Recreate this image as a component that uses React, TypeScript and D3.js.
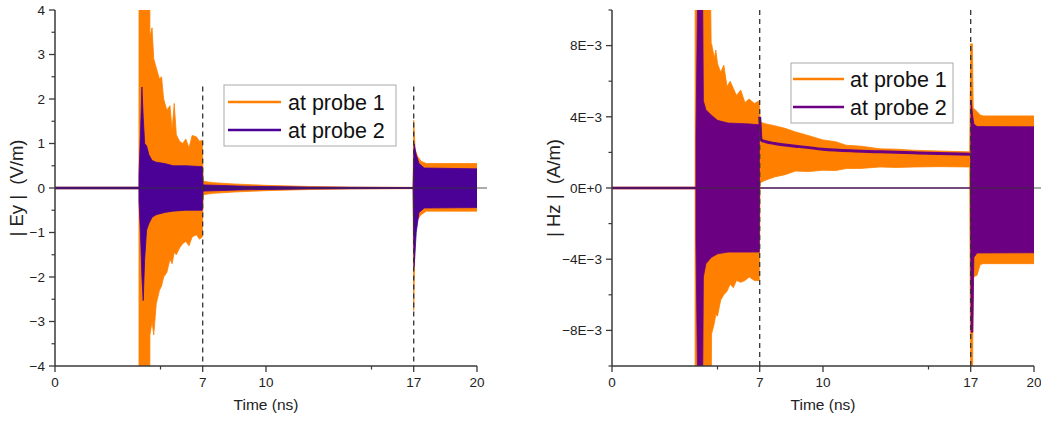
import React from 'react';
import * as d3 from 'd3';

// ---- data ----
const xTicks = [0, 7, 10, 17, 20];
const xMinor = [5, 15];
const switchTimes = [7, 17];

const eyTicks = [-4, -3, -2, -1, 0, 1, 2, 3, 4];
const eyMinor = [-3.5, -2.5, -1.5, -0.5, 0.5, 1.5, 2.5, 3.5];
const hzTicks = [-8e-3, -4e-3, 0, 4e-3, 8e-3];
const hzMinor = [-10e-3, -6e-3, -2e-3, 2e-3, 6e-3, 10e-3];

const seriesNames = ['at probe 1', 'at probe 2'];

// Ey, probe 1 envelope (V/m)
const eyP1Time = [3.98, 4.49, 4.5, 4.6, 4.68, 4.8, 4.95, 5.05, 5.15, 5.3, 5.45, 5.55, 5.65, 5.75, 5.9, 6.05, 6.2, 6.35, 6.5, 6.7, 6.85, 6.98, 7.02, 7.5, 8.5, 10, 12, 14, 16.97, 17.0, 17.07, 17.2, 17.35, 17.6, 20];
const eyP1Upper = [5, 5, 3.4, 3.6, 2.9, 2.7, 2.45, 2.5, 2.0, 1.75, 1.85, 1.3, 1.9, 1.2, 1.05, 1.0, 1.1, 0.9, 1.18, 1.15, 1.05, 1.07, 0.15, 0.12, 0.09, 0.06, 0.035, 0.02, 0.015, 1.52, 0.85, 0.7, 0.6, 0.55, 0.55];
const eyP1Lower = [-5, -5, -3.3, -3.0, -3.3, -2.6, -2.3, -2.2, -2.0, -1.9, -1.6, -1.7, -1.45, -1.5, -1.35, -1.25, -1.2, -1.3, -1.1, -1.05, -1.15, -1.1, -0.15, -0.12, -0.09, -0.06, -0.035, -0.02, -0.015, -2.75, -0.9, -0.7, -0.6, -0.52, -0.52];

// Ey, probe 2 envelope (V/m)
const eyP2Time = [3.98, 4.05, 4.12, 4.18, 4.25, 4.34, 4.45, 4.6, 4.8, 5.2, 5.6, 6.2, 6.98, 7.02, 9, 12, 16.97, 17.02, 17.12, 17.25, 17.5, 20];
const eyP2Upper = [0.3, 1.2, 2.27, 1.6, 1.0, 0.95, 0.75, 0.62, 0.58, 0.55, 0.5, 0.5, 0.48, 0.07, 0.04, 0.02, 0.01, 0.99, 0.75, 0.55, 0.45, 0.43];
const eyP2Lower = [-0.3, -1.0, -2.0, -2.53, -1.6, -0.95, -0.8, -0.66, -0.6, -0.55, -0.52, -0.5, -0.5, -0.07, -0.04, -0.02, -0.01, -1.77, -1.0, -0.55, -0.45, -0.44];

// Hz, probe 1 envelope (A/m)
const hzP1Time = [3.94, 4.66, 4.7, 4.72, 4.85, 4.92, 5.0, 5.15, 5.3, 5.45, 5.6, 5.75, 5.9, 6.1, 6.3, 6.5, 6.75, 6.98, 7.02, 7.3, 7.7, 8.2, 8.7, 9.3, 10, 10.6, 11.1, 11.8, 12.7, 13.5, 14.3, 15.5, 16.95, 17.0, 17.08, 17.12, 17.3, 17.45, 17.6, 20];
const hzP1Upper = [12, 12, 8.1, 8.1, 7.3, 7.75, 7.0, 6.5, 6.9, 5.7, 6.0, 5.6, 5.2, 5.5, 4.8, 5.0, 4.75, 4.9, 3.7, 3.6, 3.5, 3.35, 3.15, 2.95, 2.7, 2.6, 2.4, 2.35, 2.2, 2.18, 2.12, 2.08, 2.03, 8.1, 8.1, 4.5, 4.3, 4.1, 4.05, 4.05].map(v => v * 1e-3);
const hzP1Lower = [-12, -12, -12, -8.2, -7.6, -7.1, -7.2, -6.3, -6.0, -5.8, -5.4, -5.6, -5.2, -5.3, -5.2, -5.0, -5.2, -5.2, 0.3, 0.45, 0.62, 0.75, 0.95, 0.92, 1.0, 0.98, 1.09, 1.1, 1.18, 1.15, 1.18, 1.2, 1.18, -12, -12, -5.0, -4.9, -4.3, -4.25, -4.25].map(v => v * 1e-3);

// Hz, probe 2 envelope (A/m)
const hzP2Time = [3.98, 4.07, 4.29, 4.33, 4.45, 4.7, 5.0, 5.5, 6.5, 6.98, 6.99, 16.99, 17.02, 17.1, 17.15, 17.3, 20];
const hzP2Upper = [3.0, 12, 12, 4.9, 4.4, 4.1, 3.8, 3.65, 3.6, 3.55, 0, 0, 4.94, 4.0, 3.6, 3.45, 3.44].map(v => v * 1e-3);
const hzP2Lower = [-3.0, -12, -12, -5.0, -4.26, -3.9, -3.7, -3.6, -3.6, -3.6, 0, 0, -8.1, -8.1, -3.9, -3.65, -3.64].map(v => v * 1e-3);
// Hz, probe 2 slow decay between the switches (A/m)
const hzP2DecayTime = [7.0, 7.08, 7.3, 7.7, 8.7, 10, 11.5, 12.7, 14.5, 16.97];
const hzP2Decay = [4.0, 2.7, 2.6, 2.5, 2.35, 2.18, 2.08, 2.03, 1.97, 1.9].map(v => v * 1e-3);

const ORANGE = '#ff8000';
const FONT = '"Liberation Sans", Arial, sans-serif';

type Band = { time: number[]; upper: number[]; lower: number[]; color: string };

type PanelProps = {
  id: string;
  x0: number; x1: number; y0: number; y1: number;
  yDomain: [number, number];
  yTicks: number[]; yMinor: number[];
  fmt: (v: number) => string;
  yLabel: string; yLabelX: number;
  bands: Band[];
  quietEnd: number;
  purple: string;
  decay?: { time: number[]; value: number[] };
  dashTop: number;
  zeroEnd: number;
  legend: { x: number; y: number; w: number; h: number; lineX0: number; lineX1: number; textX: number; row1: number; gap: number };
};

function Panel(p: PanelProps) {
  const x = d3.scaleLinear().domain([0, 20]).range([p.x0, p.x1]);
  const y = d3.scaleLinear().domain(p.yDomain).range([p.y1, p.y0]);
  const ink = '#3a3a3a';
  const area = (b: Band) =>
    d3.area<number>()
      .x(i => x(b.time[i]))
      .y0(i => y(b.lower[i]))
      .y1(i => y(b.upper[i]))(d3.range(b.time.length)) || '';
  const flat = d3.line<number>().x(t => x(t)).y(() => y(0))([0, p.quietEnd]) || '';
  const decay = p.decay
    ? d3.line<number>().x(i => x(p.decay!.time[i])).y(i => y(p.decay!.value[i])).curve(d3.curveMonotoneX)(d3.range(p.decay.time.length)) || ''
    : '';
  const lg = p.legend;
  return (
    <g>
      <defs>
        <clipPath id={p.id}>
          <rect x={p.x0} y={p.y0} width={p.x1 - p.x0} height={p.y1 - p.y0} />
        </clipPath>
      </defs>
      <g clipPath={`url(#${p.id})`}>
        <path d={flat} stroke={ORANGE} strokeWidth={2.5} fill="none" />
        {p.bands.map((b, k) => (
          <path key={k} d={area(b)} fill={b.color} stroke={b.color} strokeWidth={0.8} />
        ))}
        <path d={flat} stroke={p.purple} strokeWidth={2.5} fill="none" />
        {p.decay && <path d={decay} stroke={p.purple} strokeWidth={3} fill="none" />}
      </g>
      {/* zero reference line, drawn over the data */}
      <line x1={p.x0} x2={p.zeroEnd} y1={y(0)} y2={y(0)} stroke="#333" strokeOpacity={0.8} strokeWidth={1} />
      {switchTimes.map(t => (
        <line key={t} x1={x(t)} x2={x(t)} y1={y(p.dashTop)} y2={p.y1} stroke="#333" strokeWidth={1.3} strokeDasharray="5,4" />
      ))}
      {/* axes */}
      <line x1={p.x0} x2={p.x0} y1={p.y0} y2={p.y1} stroke={ink} strokeWidth={1.5} />
      <line x1={p.x0} x2={p.x1} y1={p.y1} y2={p.y1} stroke={ink} strokeWidth={1.5} />
      {p.yTicks.map(v => (
        <g key={v}>
          <line x1={p.x0 - 6} x2={p.x0} y1={y(v)} y2={y(v)} stroke={ink} strokeWidth={1.3} />
          <text x={p.x0 - 10} y={y(v)} dy="0.35em" textAnchor="end" fontSize={13.5} fill="#222" fontFamily={FONT}>{p.fmt(v)}</text>
        </g>
      ))}
      {p.yMinor.map(v => (
        <line key={v} x1={p.x0 - 3.5} x2={p.x0} y1={y(v)} y2={y(v)} stroke={ink} strokeWidth={1.2} />
      ))}
      {xTicks.map(v => (
        <g key={v}>
          <line x1={x(v)} x2={x(v)} y1={p.y1} y2={p.y1 + 6} stroke={ink} strokeWidth={1.3} />
          <text x={x(v)} y={p.y1 + 21} textAnchor="middle" fontSize={13.5} fill="#222" fontFamily={FONT}>{v}</text>
        </g>
      ))}
      {xMinor.map(v => (
        <line key={v} x1={x(v)} x2={x(v)} y1={p.y1} y2={p.y1 + 3.5} stroke={ink} strokeWidth={1.2} />
      ))}
      <text x={(p.x0 + p.x1) / 2} y={p.y1 + 44} textAnchor="middle" fontSize={15.5} fill="#222" fontFamily={FONT}>Time (ns)</text>
      <text transform={`translate(${p.yLabelX},${(p.y0 + p.y1) / 2}) rotate(-90)`} textAnchor="middle" dy="0.35em" fontSize={18.5} fill="#222" fontFamily={FONT} style={{ whiteSpace: 'pre' }}>{p.yLabel}</text>
      {/* legend */}
      <rect x={lg.x} y={lg.y} width={lg.w} height={lg.h} fill="#fff" stroke="#aaa" strokeWidth={1} />
      {seriesNames.map((name, i) => {
        const ly = lg.row1 + i * lg.gap;
        const col = i === 0 ? ORANGE : p.purple;
        return (
          <g key={name}>
            <line x1={lg.lineX0} x2={lg.lineX1} y1={ly} y2={ly} stroke={col} strokeWidth={2.5} />
            <text x={lg.textX} y={ly} dy="0.35em" fontSize={21.5} fill="#111" fontFamily={FONT}>{name}</text>
          </g>
        );
      })}
    </g>
  );
}

export default function App() {
  const eyPurple = '#4b0096';
  const hzPurple = '#6b0082';
  const hzFmt = (v: number) => (v === 0 ? '0E+0' : `${Math.round(v * 1e3)}E\u22123`.replace(/^-/, '\u2212'));
  return (
    <div style={{ position: 'absolute', left: 0, top: 0 }}>
      <svg width={1041} height={423} style={{ display: 'block', background: '#fff' }}>
        <Panel
          id="clipEy"
          x0={55} x1={477} y0={10} y1={366}
          yDomain={[-4, 4]} yTicks={eyTicks} yMinor={eyMinor}
          fmt={v => String(v).replace('-', '\u2212')}
          yLabel={'| Ey |  (V/m)'} yLabelX={17}
          bands={[
            { time: eyP1Time, upper: eyP1Upper, lower: eyP1Lower, color: ORANGE },
            { time: eyP2Time, upper: eyP2Upper, lower: eyP2Lower, color: eyPurple },
          ]}
          quietEnd={4.0}
          purple={eyPurple}
          dashTop={2.28}
          zeroEnd={487}
          legend={{ x: 224, y: 85, w: 172, h: 61, lineX0: 228, lineX1: 281, textX: 288, row1: 102, gap: 28 }}
        />
        <Panel
          id="clipHz"
          x0={612} x1={1034} y0={10} y1={366}
          yDomain={[-10e-3, 10e-3]} yTicks={hzTicks} yMinor={hzMinor}
          fmt={hzFmt}
          yLabel={'| Hz |  (A/m)'} yLabelX={554}
          bands={[
            { time: hzP1Time, upper: hzP1Upper, lower: hzP1Lower, color: ORANGE },
            { time: hzP2Time, upper: hzP2Upper, lower: hzP2Lower, color: hzPurple },
          ]}
          quietEnd={4.0}
          purple={hzPurple}
          decay={{ time: hzP2DecayTime, value: hzP2Decay }}
          dashTop={10e-3}
          zeroEnd={1041}
          legend={{ x: 791, y: 63, w: 162, h: 60, lineX0: 793, lineX1: 844, textX: 850, row1: 79, gap: 28 }}
        />
      </svg>
    </div>
  );
}
